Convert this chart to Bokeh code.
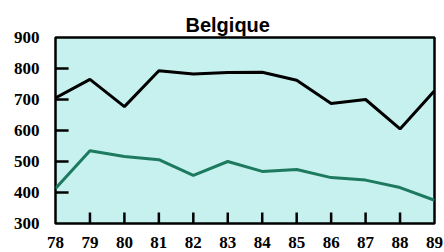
import math
from bokeh.plotting import figure
from bokeh.models import Range1d, FixedTicker
from bokeh.embed import file_html
from bokeh.resources import INLINE

years = [78, 79, 80, 81, 82, 83, 84, 85, 86, 87, 88, 89]
series_black = [705, 765, 677, 793, 782, 787, 788, 762, 687, 700, 605, 728]
series_teal = [413, 535, 516, 506, 455, 500, 468, 474, 448, 440, 416, 375]
y_ticks = [300, 400, 500, 600, 700, 800, 900]
title_text = "Belgique"

FONT = "Liberation Sans Narrow"
TICK_LEN_YEARS = 0.38  # about 13 px of the x scale

p = figure(width=444, height=252, output_backend="svg", toolbar_location=None,
           x_range=Range1d(78, 89), y_range=Range1d(300, 900),
           min_border_left=55, min_border_right=10, min_border_top=37, min_border_bottom=29)

p.title.text = title_text
p.title.align = "left"
p.title.offset = 130
p.title.text_font = "Liberation Sans"
p.title.text_font_size = "20px"
p.title.text_font_style = "bold"
p.title.text_color = "black"
p.title.standoff = 3

p.background_fill_color = "#c6f1ef"
p.border_fill_color = "white"
p.outline_line_color = "black"
p.outline_line_width = 2.5
p.grid.visible = False

p.line(years, series_black, line_color="black", line_width=3)
p.line(years, series_teal, line_color="#1d7a5f", line_width=3)

# inward tick marks, placed through the data scales
p.ray(x=years[1:-1], y=[y_ticks[0]] * (len(years) - 2), length=11, length_units="screen",
      angle=math.pi / 2, line_color="black", line_width=2.5)
inner_y = y_ticks[1:-1]
p.multi_line(xs=[[years[0] - 0.2, years[0] + TICK_LEN_YEARS] for _ in inner_y],
             ys=[[v, v] for v in inner_y], line_color="black", line_width=2.5)

p.xaxis.ticker = FixedTicker(ticks=years)
p.yaxis.ticker = FixedTicker(ticks=y_ticks)
for ax in (p.xaxis[0], p.yaxis[0]):
    ax.axis_line_color = None
    ax.major_tick_in = 0
    ax.major_tick_out = 0
    ax.major_tick_line_color = None
    ax.minor_tick_line_color = None
    ax.major_label_text_font = FONT
    ax.major_label_text_font_size = "17px"
    ax.major_label_text_font_style = "bold"
    ax.major_label_text_color = "black"
p.xaxis.major_label_standoff = 13
p.yaxis.major_label_standoff = 16

open("out.html", "w").write(file_html(p, INLINE))
